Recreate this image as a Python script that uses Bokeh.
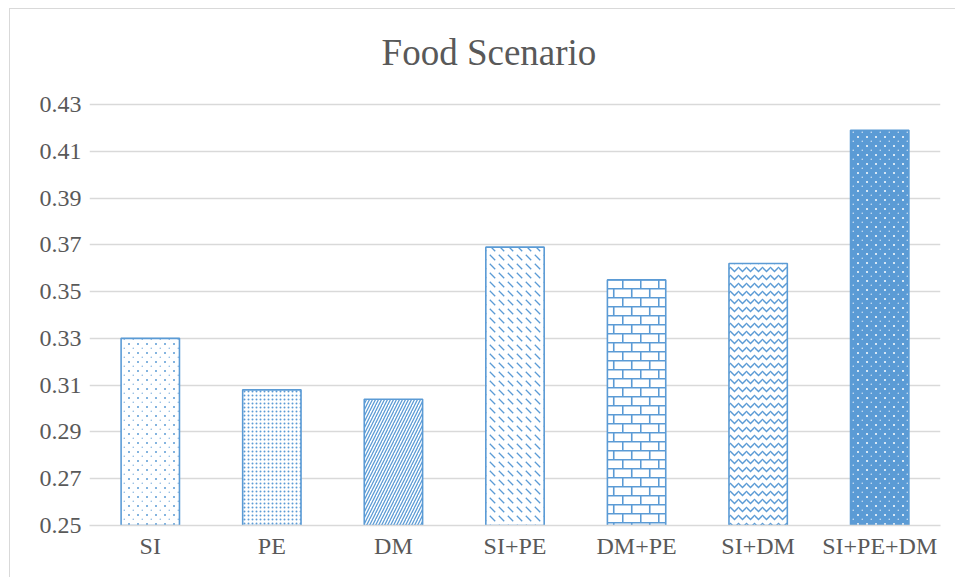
from bokeh.plotting import figure
from bokeh.models import (ColumnDataSource, FactorRange, Range1d, FixedTicker,
                          ImageURLTexture, CustomJSTickFormatter, Label)
from bokeh.embed import file_html
from bokeh.resources import INLINE
from urllib.parse import quote

# Scores per method combination
categories = ["SI", "PE", "DM", "SI+PE", "DM+PE", "SI+DM", "SI+PE+DM"]
scores = [0.330, 0.308, 0.304, 0.369, 0.355, 0.362, 0.419]
y_ticks = [0.25, 0.27, 0.29, 0.31, 0.33, 0.35, 0.37, 0.39, 0.41, 0.43]
title_text = "Food Scenario"

BLUE = "#5B9BD5"
GRID = "#D9D9D9"
TEXT = "#595959"
FONT = "Liberation Serif"


def svg_texture(body, w, h):
    svg = f"<svg xmlns='http://www.w3.org/2000/svg' width='{w}' height='{h}'>{body}</svg>"
    return ImageURLTexture(url="data:image/svg+xml;utf8," + quote(svg), repetition="repeat")


# Brick texture for DM+PE
brick = svg_texture(
    "<rect width='18' height='18' fill='white'/>"
    "<path d='M0 0.75H18 M0 9.75H18 M0.75 0V9.75 M9.75 9.75V18' "
    "stroke='#5B9BD5' stroke-width='1.6' fill='none'/>", 18, 18)

# Sparse staggered dots: blue on white (SI) and white on blue (SI+PE+DM)
def sparse_dots(color):
    return svg_texture(
        f"<circle cx='2' cy='2' r='1' fill='{color}'/>"
        f"<circle cx='6.25' cy='6.25' r='0.75' fill='{color}' fill-opacity='0.75'/>",
        8.5, 8.5)

dots_blue = sparse_dots(BLUE)
dots_white = sparse_dots("white")

source = ColumnDataSource(dict(
    x=categories,
    top=scores,
    fill=["white"] * 6 + [BLUE],
    hcolor=[BLUE] * 6 + ["white"],
    pattern=["sparse_blue", "dot", "right_diagonal_line", "left_diagonal_dash",
             "brick", "horizontal_wave", "sparse_white"],
    hscale=[9, 4, 6, 9, 18, 8, 9],
    hweight=[1, 1.8, 1.3, 1.3, 1, 1.5, 1],
))

# The plot frame reaches the top of the canvas so the title can sit inside it;
# the value axis only ticks and grids from 0.25 to 0.43.
p = figure(
    x_range=FactorRange(*categories, range_padding=0),
    y_range=Range1d(0.25, 0.4706),
    width=946, height=569,
    output_backend="svg", toolbar_location=None,
    min_border_left=79, min_border_right=16,
    min_border_top=0, min_border_bottom=53,
)
p.margin = (8, 0, 0, 9)
p.styles = {"border-left": f"1px solid {GRID}", "border-top": f"1px solid {GRID}"}

p.vbar(
    x="x", top="top", bottom=0.25, width=0.48, source=source,
    fill_color="fill", line_color=BLUE, line_width=1.6,
    hatch_pattern="pattern", hatch_color="hcolor",
    hatch_scale="hscale", hatch_weight="hweight",
    hatch_extra={"brick": brick, "sparse_blue": dots_blue, "sparse_white": dots_white},
)

# Chart title, centred over the whole chart area
p.add_layout(Label(
    x=3.286, y=0.4522, text=title_text,
    text_font=FONT, text_font_size="37px", text_color=TEXT,
    text_align="center", text_baseline="alphabetic",
))

p.outline_line_color = None
p.xgrid.grid_line_color = None
p.ygrid.grid_line_color = GRID
p.ygrid.grid_line_width = 1.5

p.yaxis.ticker = FixedTicker(ticks=y_ticks)
p.yaxis.formatter = CustomJSTickFormatter(code="return tick.toFixed(2);")

for ax in (p.xaxis, p.yaxis):
    ax.axis_line_color = None
    ax.major_tick_line_color = None
    ax.minor_tick_line_color = None
    ax.major_tick_out = 0
    ax.major_tick_in = 0
    ax.minor_tick_out = 0
    ax.major_label_text_font = FONT
    ax.major_label_text_font_size = "24px"
    ax.major_label_text_color = TEXT
p.xaxis.axis_line_color = GRID
p.xaxis.axis_line_width = 1.5
p.yaxis.major_label_standoff = 8
p.xaxis.major_label_standoff = 7

open("out.html", "w").write(file_html(p, INLINE))
